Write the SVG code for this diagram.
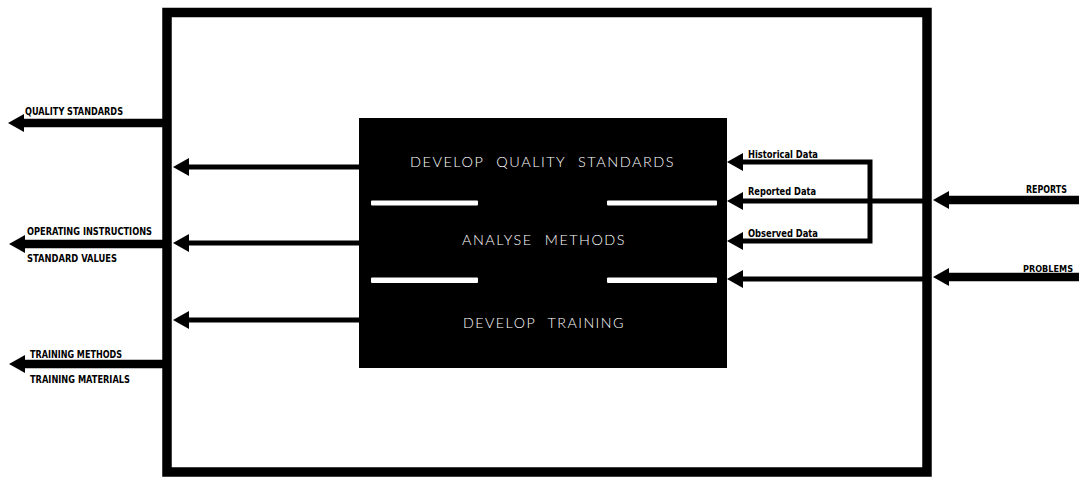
<svg xmlns="http://www.w3.org/2000/svg" width="1079" height="477" viewBox="0 0 1079 477">
  <style>
    .frame { fill: none; stroke: #000; stroke-width: 9.5; }
    .block { fill: #000; }
    .divider { fill: #fff; }
    .fn { fill: #fff; font-family: Lato, "Open Sans", "DejaVu Sans", sans-serif; font-weight: 300; font-size: 14.5px; letter-spacing: 1.5px; word-spacing: 7px; }
    .tag { fill: #000; font-family: "DejaVu Sans Condensed", "Liberation Sans Narrow", "Liberation Sans", sans-serif; font-weight: bold; font-stretch: condensed; font-size: 11px; }
    .tag-tight { font-size: 9.5px; }
    .flow { fill: none; stroke: #000; stroke-width: 5; marker-end: url(#head); }
    .flow-heavy { fill: none; stroke: #000; stroke-width: 8.5; marker-end: url(#head); }
    .link { fill: none; stroke: #000; stroke-width: 5; }
  </style>
  <defs>
    <marker id="head" markerUnits="userSpaceOnUse" viewBox="0 0 16 20" markerWidth="16" markerHeight="20" refX="4" refY="10" orient="auto-start-reverse">
      <path d="M0,1 L16,10 L0,19 Z" fill="#000"/>
    </marker>
  </defs>

  <!-- system boundary -->
  <g id="boundary">
    <rect class="frame" x="167" y="12.5" width="760" height="459.5"/>
  </g>

  <!-- process block with its three functions -->
  <g id="process-block">
    <rect class="block" x="359" y="118" width="368" height="250"/>
    <rect class="divider" x="371" y="200.5" width="107" height="5" rx="1"/>
    <rect class="divider" x="607" y="200.5" width="110" height="5" rx="1"/>
    <rect class="divider" x="371" y="277.5" width="107" height="5.5" rx="1"/>
    <rect class="divider" x="607" y="277.5" width="110" height="5.5" rx="1"/>
  </g>
  <g id="fn-quality-standards">
    <text class="fn" x="410" y="167" textLength="265" lengthAdjust="spacingAndGlyphs">DEVELOP QUALITY STANDARDS</text>
  </g>
  <g id="fn-analyse-methods">
    <text class="fn" x="462" y="245" textLength="164" lengthAdjust="spacingAndGlyphs">ANALYSE METHODS</text>
  </g>
  <g id="fn-develop-training">
    <text class="fn" x="463" y="328" textLength="162" lengthAdjust="spacingAndGlyphs">DEVELOP TRAINING</text>
  </g>

  <!-- connectors -->
  <g id="connectors">
    <!-- block outputs to boundary -->
    <path class="flow" d="M359,167 H185"/>
    <path class="flow" d="M359,243 H185"/>
    <path class="flow" d="M359,320 H185"/>
    <!-- boundary outputs -->
    <path class="flow-heavy" d="M167,123 H20"/>
    <path class="flow-heavy" d="M167,244 H21"/>
    <path class="flow-heavy" d="M167,364 H21"/>
    <!-- external inputs -->
    <path class="flow-heavy" d="M1079,200 H945"/>
    <path class="flow-heavy" d="M1079,277 H945"/>
    <!-- inputs into the block -->
    <path class="flow" d="M927,201 H739"/>
    <path class="flow" d="M927,279 H739"/>
    <!-- data loop: historical / observed -->
    <path class="link" d="M739,162 H870 V241 H739" style="marker-start: url(#head); marker-end: url(#head);"/>
  </g>

  <!-- connector labels -->
  <g id="labels">
    <text class="tag" x="25" y="115" textLength="98" lengthAdjust="spacingAndGlyphs">QUALITY STANDARDS</text>
    <text class="tag" x="27" y="235" textLength="125" lengthAdjust="spacingAndGlyphs">OPERATING INSTRUCTIONS</text>
    <text class="tag" x="27" y="262" textLength="90" lengthAdjust="spacingAndGlyphs">STANDARD VALUES</text>
    <text class="tag" x="30" y="358" textLength="92" lengthAdjust="spacingAndGlyphs">TRAINING METHODS</text>
    <text class="tag" x="30" y="383" textLength="100" lengthAdjust="spacingAndGlyphs">TRAINING MATERIALS</text>
    <text class="tag" x="748" y="158" textLength="70" lengthAdjust="spacingAndGlyphs">Historical Data</text>
    <text class="tag" x="748" y="195" textLength="68" lengthAdjust="spacingAndGlyphs">Reported Data</text>
    <text class="tag" x="748" y="237" textLength="70" lengthAdjust="spacingAndGlyphs">Observed Data</text>
    <text class="tag" x="1026" y="193" textLength="41" lengthAdjust="spacingAndGlyphs">REPORTS</text>
    <text class="tag tag-tight" x="1023" y="272" textLength="50" lengthAdjust="spacingAndGlyphs">PROBLEMS</text>
  </g>
</svg>
